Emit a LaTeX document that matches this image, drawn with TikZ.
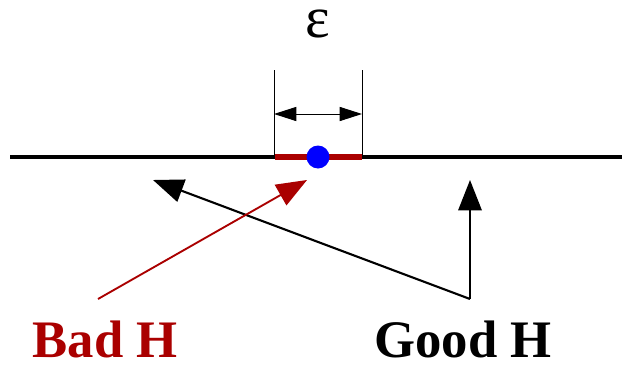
\documentclass[tikz,border=0pt]{standalone}
\usepackage{fontspec}
\setmainfont{Liberation Serif}
\usepackage{xcolor}
\usepackage{tikz}
\usetikzlibrary{arrows.meta,positioning,calc}

\definecolor{badred}{RGB}{170,0,0}

\tikzset{
  bigtip/.style={-{Triangle[length=26pt,width=20pt]}},
  labeltext/.style={font=\fontsize{45}{50}\selectfont\bfseries, inner sep=1pt}
}

\begin{document}
\begin{tikzpicture}[x=0.03cm, y=-0.03cm]
  \useasboundingbox (0,0) rectangle (622,366);
  % base line and interval
  \coordinate (left) at (10,157);
  \coordinate (right) at (622,157);
  \coordinate (ia) at (275,157);
  \coordinate (ib) at (362,157);
  \draw[line width=2.6pt] (left) -- (right);
  \draw[line width=4.3pt, badred] (ia) -- (ib);
  \fill[blue] (318,157) circle (11.5);
  % width marker
  \coordinate (ta) at (274,70);
  \coordinate (tb) at (362,70);
  \draw[line width=0.8pt] (ta) -- (274,157);
  \draw[line width=0.8pt] (tb) -- (362,157);
  \draw[line width=0.8pt, {Triangle[length=19pt,width=12pt]}-{Triangle[length=19pt,width=12pt]}] (274,114) -- (362,114);
  \node[inner sep=1pt] (eps) at (318,24) {\fontsize{50}{54}\selectfont ε};
  % hypotheses
  \coordinate (good) at (470,299);
  \coordinate (goodup) at (470,180);
  \coordinate (goodleft) at (153,180);
  \coordinate (bad) at (98,299);
  \coordinate (badtip) at (307,180);
  \draw[line width=1.8pt, bigtip] (good) -- (goodleft);
  \draw[line width=1.8pt, bigtip] (good) -- (goodup);
  \draw[line width=1.6pt, badred, bigtip] (bad) -- (badtip);
  \node[labeltext, badred] (badlabel) at (105,339) {Bad H};
  \node[labeltext] (goodlabel) at (463,339) {Good H};
\end{tikzpicture}
\end{document}
